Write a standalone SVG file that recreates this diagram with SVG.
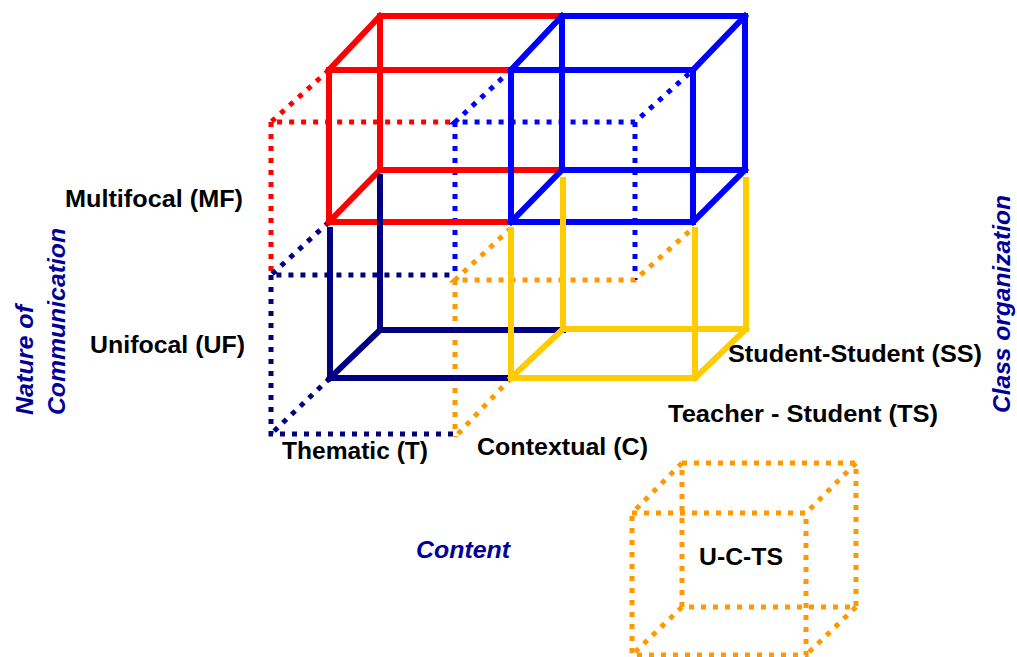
<svg xmlns="http://www.w3.org/2000/svg" width="1017" height="657" viewBox="0 0 1017 657">
<style>
.s{fill:none;stroke-width:6;stroke-linejoin:miter;stroke-linecap:square}
.d{fill:none;stroke-width:5;stroke-dasharray:5 7;stroke-linecap:butt}
.red{stroke:#FF0000}.blue{stroke:#0000FF}.navy{stroke:#000080}.yel{stroke:#FFCC00}.org{stroke:#FF9900}
.lbl{font-family:"Liberation Sans",Arial,sans-serif;font-weight:bold;font-size:23px;fill:#000}
.ax{font-family:"Liberation Sans",Arial,sans-serif;font-weight:bold;font-style:italic;font-size:23px;fill:#000099}
</style>
<rect width="1017" height="657" fill="#fff"/>
<g id="connectors">
  <g id="red-hidden">
    <polyline class="d red" points="329,70 271,122 455,122"/>
    <polyline class="d red" points="271,122 271,272"/>
  </g>
  <g id="blue-hidden">
    <polyline class="d blue" points="511,70 455,122 635,122 693,70"/>
    <polyline class="d blue" points="455,122 455,274"/>
    <polyline class="d blue" points="635,122 635,280"/>
  </g>
  <g id="navy-hidden">
    <polyline class="d navy" points="329,222 271,275 455,275"/>
    <polyline class="d navy" points="271,275 271,434 455,434"/>
    <polyline class="d navy" points="330,378 271,434"/>
  </g>
  <g id="orange-hidden">
    <polyline class="d org" points="511,228 455,280 635,280 693,228"/>
    <polyline class="d org" points="455,280 455,437"/>
    <polyline class="d org" points="511,378 455,437"/>
  </g>
</g>
<g id="cube-MF-T">
  <polyline class="s red" points="380,170 380,16 562,16"/>
  <line class="s red" x1="380" y1="170" x2="562" y2="170"/>
  <line class="s red" x1="380" y1="16" x2="329" y2="70"/>
  <line class="s red" x1="380" y1="170" x2="329" y2="222"/>
  <polyline class="s red" points="511,70 329,70 329,222 511,222"/>
</g>
<g id="cube-MF-C">
  <polygon class="s blue" points="562,16 745,16 745,170 562,170"/>
  <line class="s blue" x1="562" y1="16" x2="511" y2="70"/>
  <line class="s blue" x1="745" y1="16" x2="693" y2="70"/>
  <line class="s blue" x1="562" y1="170" x2="511" y2="222"/>
  <line class="s blue" x1="745" y1="170" x2="693" y2="222"/>
  <polygon class="s blue" points="511,70 693,70 693,222 511,222"/>
</g>
<g id="cube-UF-T">
  <polyline class="s navy" points="380,177 380,330 563,330"/>
  <polyline class="s navy" points="330,230 330,378 511,378"/>
  <line class="s navy" x1="380" y1="330" x2="330" y2="378"/>
</g>
<g id="cube-UF-C">
  <polyline class="s yel" points="563,180 563,329 746,329 746,180"/>
  <polyline class="s yel" points="511,230 511,378 695,378 695,230"/>
  <line class="s yel" x1="563" y1="329" x2="511" y2="378"/>
  <line class="s yel" x1="746" y1="329" x2="695" y2="378"/>
</g>
<g id="cube-UCTS">
  <polygon class="d org" points="682,463 856,463 856,607 682,607"/>
  <line class="d org" x1="682" y1="463" x2="632" y2="513"/>
  <line class="d org" x1="856" y1="463" x2="806" y2="513"/>
  <line class="d org" x1="682" y1="607" x2="632" y2="655"/>
  <line class="d org" x1="856" y1="607" x2="806" y2="655"/>
  <polygon class="d org" points="632,513 806,513 806,655 632,655"/>
  <text class="lbl" x="699" y="565" textLength="84" lengthAdjust="spacingAndGlyphs">U-C-TS</text>
</g>
<g id="labels">
  <text id="mf" class="lbl" x="65" y="207" textLength="178" lengthAdjust="spacingAndGlyphs">Multifocal (MF)</text>
  <text id="uf" class="lbl" x="90" y="353" textLength="155" lengthAdjust="spacingAndGlyphs">Unifocal (UF)</text>
  <text id="t" class="lbl" x="282" y="459" textLength="146" lengthAdjust="spacingAndGlyphs">Thematic (T)</text>
  <text id="c" class="lbl" x="477" y="455" textLength="171" lengthAdjust="spacingAndGlyphs">Contextual (C)</text>
  <text id="ss" class="lbl" x="728" y="362" textLength="254" lengthAdjust="spacingAndGlyphs">Student-Student (SS)</text>
  <text id="ts" class="lbl" x="668" y="422" textLength="270" lengthAdjust="spacingAndGlyphs">Teacher - Student (TS)</text>
  <text id="content" class="ax" x="416" y="558" textLength="94" lengthAdjust="spacingAndGlyphs">Content</text>
  <text id="noc" class="ax" transform="translate(33,415) rotate(-90)" textLength="110" lengthAdjust="spacingAndGlyphs">Nature of</text>
  <text id="noc2" class="ax" transform="translate(65,415) rotate(-90)" textLength="187" lengthAdjust="spacingAndGlyphs">Communication</text>
  <text id="co" class="ax" transform="translate(1010,413) rotate(-90)" textLength="218" lengthAdjust="spacingAndGlyphs">Class organization</text>
</g>
</svg>
